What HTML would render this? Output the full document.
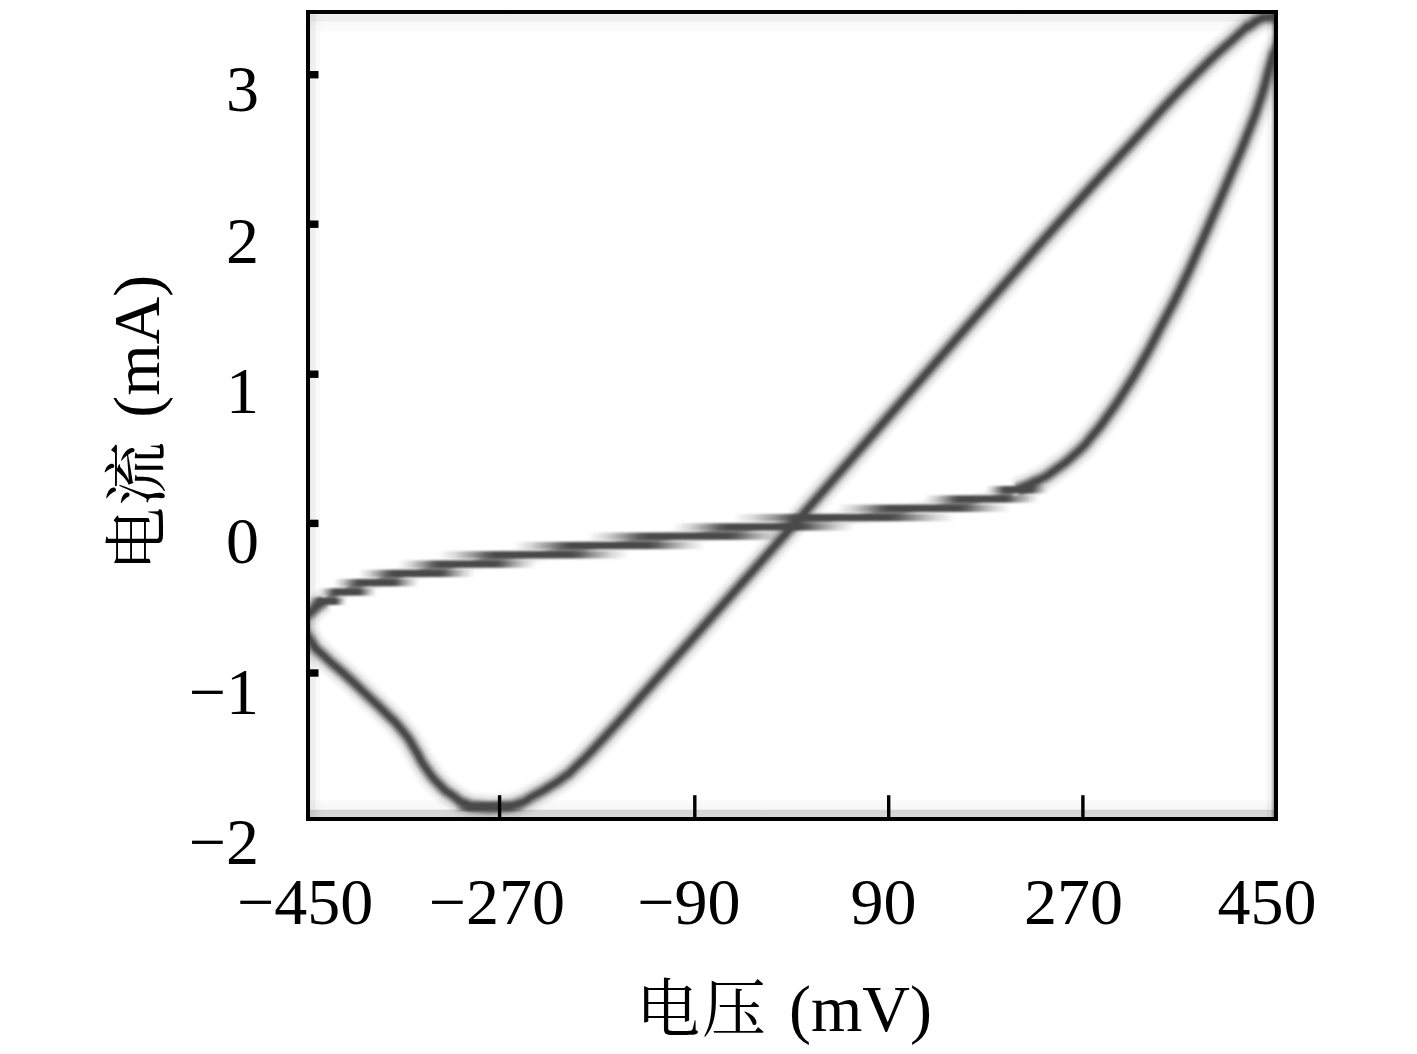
<!DOCTYPE html>
<html lang="zh"><head><meta charset="utf-8"><title>电流 (mA) – 电压 (mV)</title>
<style>html,body{margin:0;padding:0;background:#fff;font-family:"Liberation Serif",serif}svg{display:block}</style></head>
<body><svg width="1417" height="1054" viewBox="0 0 1417 1054" role="img" aria-label="电流 (mA) 电压 (mV)">
<desc>I-V hysteresis curve. y axis: 电流 (mA) 3 2 1 0 −1 −2. x axis: 电压 (mV) −450 −270 −90 90 270 450</desc>
<defs>
<filter id="b1" x="-5%" y="-5%" width="110%" height="110%"><feGaussianBlur stdDeviation="1.3"/></filter>
<filter id="b2" x="-5%" y="-5%" width="110%" height="110%"><feGaussianBlur stdDeviation="6 2.2"/></filter>
<filter id="b3" x="-5%" y="-5%" width="110%" height="110%"><feGaussianBlur stdDeviation="2.2"/></filter>
<filter id="b4" x="-5%" y="-5%" width="110%" height="110%"><feGaussianBlur stdDeviation="1.4"/></filter>
<filter id="bt" x="-50%" y="-50%" width="200%" height="200%"><feGaussianBlur stdDeviation="0.5"/></filter>
<filter id="bl"><feGaussianBlur stdDeviation="0.35"/></filter>
<linearGradient id="gt" gradientUnits="userSpaceOnUse" x1="0" y1="14" x2="0" y2="32"><stop offset="0" stop-color="#f4f4f4"/><stop offset="0.08" stop-color="#ebebeb"/><stop offset="0.36" stop-color="#ededed"/><stop offset="0.47" stop-color="#f9f9f9"/><stop offset="0.9" stop-color="#fbfbfb"/><stop offset="1" stop-color="#fff"/></linearGradient>
<linearGradient id="gl" gradientUnits="userSpaceOnUse" x1="310" y1="0" x2="321" y2="0"><stop offset="0" stop-color="#e6e6e6"/><stop offset="0.12" stop-color="#eeeeee"/><stop offset="0.45" stop-color="#f0f0f0"/><stop offset="0.58" stop-color="#fafafa"/><stop offset="0.9" stop-color="#fcfcfc"/><stop offset="1" stop-color="#fff"/></linearGradient>
<linearGradient id="gr" gradientUnits="userSpaceOnUse" x1="1274" y1="0" x2="1266" y2="0"><stop offset="0" stop-color="#9c9c9c"/><stop offset="0.3" stop-color="#dedede"/><stop offset="0.42" stop-color="#f3f3f3"/><stop offset="0.8" stop-color="#f6f6f6"/><stop offset="1" stop-color="#fff"/></linearGradient>
<linearGradient id="gb" gradientUnits="userSpaceOnUse" x1="0" y1="817" x2="0" y2="799"><stop offset="0" stop-color="#d9d9d9"/><stop offset="0.36" stop-color="#d5d5d5"/><stop offset="0.44" stop-color="#f7f7f7"/><stop offset="0.88" stop-color="#fbfbfb"/><stop offset="1" stop-color="#fff"/></linearGradient>
<clipPath id="cp"><rect x="310" y="14" width="964" height="803"/></clipPath>
<linearGradient id="sg0" gradientUnits="userSpaceOnUse" x1="308.9" y1="0" x2="346.7" y2="0"><stop offset="0.0000" stop-color="#4a4a4a" stop-opacity="0"/><stop offset="0.0900" stop-color="#4a4a4a" stop-opacity="0.22"/><stop offset="0.1800" stop-color="#4a4a4a" stop-opacity="0.55"/><stop offset="0.2550" stop-color="#4a4a4a" stop-opacity="0.88"/><stop offset="0.3000" stop-color="#4a4a4a" stop-opacity="1.0"/><stop offset="0.7000" stop-color="#4a4a4a" stop-opacity="1.0"/><stop offset="0.7450" stop-color="#4a4a4a" stop-opacity="0.88"/><stop offset="0.8200" stop-color="#4a4a4a" stop-opacity="0.55"/><stop offset="0.9100" stop-color="#4a4a4a" stop-opacity="0.22"/><stop offset="1.0000" stop-color="#4a4a4a" stop-opacity="0"/></linearGradient>
<linearGradient id="sg1" gradientUnits="userSpaceOnUse" x1="317.6" y1="0" x2="376.7" y2="0"><stop offset="0.0000" stop-color="#4a4a4a" stop-opacity="0"/><stop offset="0.0900" stop-color="#4a4a4a" stop-opacity="0.22"/><stop offset="0.1800" stop-color="#4a4a4a" stop-opacity="0.55"/><stop offset="0.2550" stop-color="#4a4a4a" stop-opacity="0.88"/><stop offset="0.3000" stop-color="#4a4a4a" stop-opacity="1.0"/><stop offset="0.7000" stop-color="#4a4a4a" stop-opacity="1.0"/><stop offset="0.7450" stop-color="#4a4a4a" stop-opacity="0.88"/><stop offset="0.8200" stop-color="#4a4a4a" stop-opacity="0.55"/><stop offset="0.9100" stop-color="#4a4a4a" stop-opacity="0.22"/><stop offset="1.0000" stop-color="#4a4a4a" stop-opacity="0"/></linearGradient>
<linearGradient id="sg2" gradientUnits="userSpaceOnUse" x1="333.2" y1="0" x2="419.1" y2="0"><stop offset="0.0000" stop-color="#4a4a4a" stop-opacity="0"/><stop offset="0.0900" stop-color="#4a4a4a" stop-opacity="0.22"/><stop offset="0.1800" stop-color="#4a4a4a" stop-opacity="0.55"/><stop offset="0.2550" stop-color="#4a4a4a" stop-opacity="0.88"/><stop offset="0.3000" stop-color="#4a4a4a" stop-opacity="1.0"/><stop offset="0.7000" stop-color="#4a4a4a" stop-opacity="1.0"/><stop offset="0.7450" stop-color="#4a4a4a" stop-opacity="0.88"/><stop offset="0.8200" stop-color="#4a4a4a" stop-opacity="0.55"/><stop offset="0.9100" stop-color="#4a4a4a" stop-opacity="0.22"/><stop offset="1.0000" stop-color="#4a4a4a" stop-opacity="0"/></linearGradient>
<linearGradient id="sg3" gradientUnits="userSpaceOnUse" x1="358.4" y1="0" x2="474.9" y2="0"><stop offset="0.0000" stop-color="#4a4a4a" stop-opacity="0"/><stop offset="0.0900" stop-color="#4a4a4a" stop-opacity="0.22"/><stop offset="0.1800" stop-color="#4a4a4a" stop-opacity="0.55"/><stop offset="0.2550" stop-color="#4a4a4a" stop-opacity="0.88"/><stop offset="0.3000" stop-color="#4a4a4a" stop-opacity="1.0"/><stop offset="0.7000" stop-color="#4a4a4a" stop-opacity="1.0"/><stop offset="0.7450" stop-color="#4a4a4a" stop-opacity="0.88"/><stop offset="0.8200" stop-color="#4a4a4a" stop-opacity="0.55"/><stop offset="0.9100" stop-color="#4a4a4a" stop-opacity="0.22"/><stop offset="1.0000" stop-color="#4a4a4a" stop-opacity="0"/></linearGradient>
<linearGradient id="sg4" gradientUnits="userSpaceOnUse" x1="398.3" y1="0" x2="537.0" y2="0"><stop offset="0.0000" stop-color="#4a4a4a" stop-opacity="0"/><stop offset="0.0900" stop-color="#4a4a4a" stop-opacity="0.22"/><stop offset="0.1800" stop-color="#4a4a4a" stop-opacity="0.55"/><stop offset="0.2550" stop-color="#4a4a4a" stop-opacity="0.88"/><stop offset="0.3000" stop-color="#4a4a4a" stop-opacity="1.0"/><stop offset="0.7000" stop-color="#4a4a4a" stop-opacity="1.0"/><stop offset="0.7450" stop-color="#4a4a4a" stop-opacity="0.88"/><stop offset="0.8200" stop-color="#4a4a4a" stop-opacity="0.55"/><stop offset="0.9100" stop-color="#4a4a4a" stop-opacity="0.22"/><stop offset="1.0000" stop-color="#4a4a4a" stop-opacity="0"/></linearGradient>
<linearGradient id="sg5" gradientUnits="userSpaceOnUse" x1="438.4" y1="0" x2="628.2" y2="0"><stop offset="0.0000" stop-color="#4a4a4a" stop-opacity="0"/><stop offset="0.0900" stop-color="#4a4a4a" stop-opacity="0.22"/><stop offset="0.1800" stop-color="#4a4a4a" stop-opacity="0.55"/><stop offset="0.2550" stop-color="#4a4a4a" stop-opacity="0.88"/><stop offset="0.3000" stop-color="#4a4a4a" stop-opacity="1.0"/><stop offset="0.7000" stop-color="#4a4a4a" stop-opacity="1.0"/><stop offset="0.7450" stop-color="#4a4a4a" stop-opacity="0.88"/><stop offset="0.8200" stop-color="#4a4a4a" stop-opacity="0.55"/><stop offset="0.9100" stop-color="#4a4a4a" stop-opacity="0.22"/><stop offset="1.0000" stop-color="#4a4a4a" stop-opacity="0"/></linearGradient>
<linearGradient id="sg6" gradientUnits="userSpaceOnUse" x1="513.8" y1="0" x2="705.4" y2="0"><stop offset="0.0000" stop-color="#4a4a4a" stop-opacity="0"/><stop offset="0.0900" stop-color="#4a4a4a" stop-opacity="0.22"/><stop offset="0.1800" stop-color="#4a4a4a" stop-opacity="0.55"/><stop offset="0.2550" stop-color="#4a4a4a" stop-opacity="0.88"/><stop offset="0.3000" stop-color="#4a4a4a" stop-opacity="1.0"/><stop offset="0.7000" stop-color="#4a4a4a" stop-opacity="1.0"/><stop offset="0.7450" stop-color="#4a4a4a" stop-opacity="0.88"/><stop offset="0.8200" stop-color="#4a4a4a" stop-opacity="0.55"/><stop offset="0.9100" stop-color="#4a4a4a" stop-opacity="0.22"/><stop offset="1.0000" stop-color="#4a4a4a" stop-opacity="0"/></linearGradient>
<linearGradient id="sg7" gradientUnits="userSpaceOnUse" x1="587.9" y1="0" x2="788.1" y2="0"><stop offset="0.0000" stop-color="#4a4a4a" stop-opacity="0"/><stop offset="0.0900" stop-color="#4a4a4a" stop-opacity="0.22"/><stop offset="0.1800" stop-color="#4a4a4a" stop-opacity="0.55"/><stop offset="0.2550" stop-color="#4a4a4a" stop-opacity="0.88"/><stop offset="0.3000" stop-color="#4a4a4a" stop-opacity="1.0"/><stop offset="0.7000" stop-color="#4a4a4a" stop-opacity="1.0"/><stop offset="0.7450" stop-color="#4a4a4a" stop-opacity="0.88"/><stop offset="0.8200" stop-color="#4a4a4a" stop-opacity="0.55"/><stop offset="0.9100" stop-color="#4a4a4a" stop-opacity="0.22"/><stop offset="1.0000" stop-color="#4a4a4a" stop-opacity="0"/></linearGradient>
<linearGradient id="sg8" gradientUnits="userSpaceOnUse" x1="673.9" y1="0" x2="854.3" y2="0"><stop offset="0.0000" stop-color="#4a4a4a" stop-opacity="0"/><stop offset="0.0900" stop-color="#4a4a4a" stop-opacity="0.22"/><stop offset="0.1800" stop-color="#4a4a4a" stop-opacity="0.55"/><stop offset="0.2550" stop-color="#4a4a4a" stop-opacity="0.88"/><stop offset="0.3000" stop-color="#4a4a4a" stop-opacity="1.0"/><stop offset="0.7000" stop-color="#4a4a4a" stop-opacity="1.0"/><stop offset="0.7450" stop-color="#4a4a4a" stop-opacity="0.88"/><stop offset="0.8200" stop-color="#4a4a4a" stop-opacity="0.55"/><stop offset="0.9100" stop-color="#4a4a4a" stop-opacity="0.22"/><stop offset="1.0000" stop-color="#4a4a4a" stop-opacity="0"/></linearGradient>
<linearGradient id="sg9" gradientUnits="userSpaceOnUse" x1="733.5" y1="0" x2="955.8" y2="0"><stop offset="0.0000" stop-color="#4a4a4a" stop-opacity="0"/><stop offset="0.0900" stop-color="#4a4a4a" stop-opacity="0.22"/><stop offset="0.1800" stop-color="#4a4a4a" stop-opacity="0.55"/><stop offset="0.2550" stop-color="#4a4a4a" stop-opacity="0.88"/><stop offset="0.3000" stop-color="#4a4a4a" stop-opacity="1.0"/><stop offset="0.7000" stop-color="#4a4a4a" stop-opacity="1.0"/><stop offset="0.7450" stop-color="#4a4a4a" stop-opacity="0.88"/><stop offset="0.8200" stop-color="#4a4a4a" stop-opacity="0.55"/><stop offset="0.9100" stop-color="#4a4a4a" stop-opacity="0.22"/><stop offset="1.0000" stop-color="#4a4a4a" stop-opacity="0"/></linearGradient>
<linearGradient id="sg10" gradientUnits="userSpaceOnUse" x1="837.0" y1="0" x2="1010.6" y2="0"><stop offset="0.0000" stop-color="#4a4a4a" stop-opacity="0"/><stop offset="0.0900" stop-color="#4a4a4a" stop-opacity="0.22"/><stop offset="0.1800" stop-color="#4a4a4a" stop-opacity="0.55"/><stop offset="0.2550" stop-color="#4a4a4a" stop-opacity="0.88"/><stop offset="0.3000" stop-color="#4a4a4a" stop-opacity="1.0"/><stop offset="0.7000" stop-color="#4a4a4a" stop-opacity="1.0"/><stop offset="0.7450" stop-color="#4a4a4a" stop-opacity="0.88"/><stop offset="0.8200" stop-color="#4a4a4a" stop-opacity="0.55"/><stop offset="0.9100" stop-color="#4a4a4a" stop-opacity="0.22"/><stop offset="1.0000" stop-color="#4a4a4a" stop-opacity="0"/></linearGradient>
<linearGradient id="sg11" gradientUnits="userSpaceOnUse" x1="923.9" y1="0" x2="1039.2" y2="0"><stop offset="0.0000" stop-color="#4a4a4a" stop-opacity="0"/><stop offset="0.0900" stop-color="#4a4a4a" stop-opacity="0.22"/><stop offset="0.1800" stop-color="#4a4a4a" stop-opacity="0.55"/><stop offset="0.2550" stop-color="#4a4a4a" stop-opacity="0.88"/><stop offset="0.3000" stop-color="#4a4a4a" stop-opacity="1.0"/><stop offset="0.7000" stop-color="#4a4a4a" stop-opacity="1.0"/><stop offset="0.7450" stop-color="#4a4a4a" stop-opacity="0.88"/><stop offset="0.8200" stop-color="#4a4a4a" stop-opacity="0.55"/><stop offset="0.9100" stop-color="#4a4a4a" stop-opacity="0.22"/><stop offset="1.0000" stop-color="#4a4a4a" stop-opacity="0"/></linearGradient>
<linearGradient id="sg12" gradientUnits="userSpaceOnUse" x1="985.7" y1="0" x2="1048.7" y2="0"><stop offset="0.0000" stop-color="#4a4a4a" stop-opacity="0"/><stop offset="0.0900" stop-color="#4a4a4a" stop-opacity="0.22"/><stop offset="0.1800" stop-color="#4a4a4a" stop-opacity="0.55"/><stop offset="0.2550" stop-color="#4a4a4a" stop-opacity="0.88"/><stop offset="0.3000" stop-color="#4a4a4a" stop-opacity="1.0"/><stop offset="0.7000" stop-color="#4a4a4a" stop-opacity="1.0"/><stop offset="0.7450" stop-color="#4a4a4a" stop-opacity="0.88"/><stop offset="0.8200" stop-color="#4a4a4a" stop-opacity="0.55"/><stop offset="0.9100" stop-color="#4a4a4a" stop-opacity="0.22"/><stop offset="1.0000" stop-color="#4a4a4a" stop-opacity="0"/></linearGradient><linearGradient id="xg0" gradientUnits="userSpaceOnUse" x1="455" y1="0" x2="526" y2="0"><stop offset="0" stop-color="#4a4a4a" stop-opacity="0"/><stop offset="0.169" stop-color="#4a4a4a" stop-opacity="1"/><stop offset="0.746" stop-color="#4a4a4a" stop-opacity="1"/><stop offset="1" stop-color="#4a4a4a" stop-opacity="0"/></linearGradient>
</defs>
<rect width="1417" height="1054" fill="#fff"/>
<g clip-path="url(#cp)">
<rect x="310" y="14" width="964" height="18" fill="url(#gt)"/>
<rect x="310" y="14" width="11" height="803" fill="url(#gl)" style="mix-blend-mode:multiply"/>
<rect x="1266" y="14" width="8" height="803" fill="url(#gr)" style="mix-blend-mode:multiply"/>
<rect x="310" y="799" width="964" height="18" fill="url(#gb)" style="mix-blend-mode:multiply"/>
<g fill="none" stroke-linecap="butt" stroke-linejoin="round">
<path d="M312.5,610.5C316.4,607.4 314.1,607.4 324.2,601.2C334.3,595.0 327.0,598.2 342.7,592.0C358.4,585.8 348.4,588.9 371.2,582.7C394.0,576.5 380.2,579.7 411.0,573.5C441.8,567.3 434.3,569.2 463.7,564.2C493.1,559.2 476.2,561.7 499.3,558.5C522.4,555.3 493.5,559.5 532.9,554.7C572.3,549.9 564.7,550.5 617.6,544.1C670.5,537.7 640.2,541.6 691.7,535.6C743.2,529.6 735.7,530.7 772.2,526.1C808.7,521.5 773.9,524.8 801.2,521.8C828.5,518.8 811.8,521.6 854.1,517.0C896.4,512.4 883.7,513.9 928.2,507.9C972.7,501.9 957.9,505.0 987.5,499.0C1017.1,493.0 1000.2,496.1 1017.1,489.9C1034.0,483.7 1031.2,483.5 1038.3,480.3" stroke="#505050" stroke-width="11" opacity="0.2" filter="url(#b3)"/>
<path d="M1282.0,17.4C1277.3,17.4 1275.5,16.7 1268.0,17.4C1260.5,18.1 1265.8,16.4 1259.5,19.4C1253.2,22.4 1256.3,21.1 1249.0,26.4C1241.7,31.7 1257.9,16.8 1237.6,35.4C1217.3,54.0 1224.3,45.3 1188.2,82.1C1152.1,118.9 1169.3,102.3 1129.3,145.7C1089.3,189.1 1110.0,165.9 1068.1,212.4C1026.2,258.9 1044.5,238.8 1003.6,285.2C962.7,331.6 985.6,305.5 945.3,351.5C905.0,397.5 930.7,368.3 882.6,423.3C834.5,478.3 836.8,475.7 801.0,516.5C765.2,557.3 802.7,514.6 775.1,545.7C747.5,576.8 759.4,563.3 718.1,609.8C676.8,656.3 689.8,641.9 651.2,685.2C612.6,728.5 627.7,712.2 602.3,739.6C576.9,767.0 587.8,755.0 575.0,767.5C562.2,780.0 572.7,770.5 564.0,777.0C555.3,783.5 559.0,780.7 548.8,787.0C538.6,793.3 543.7,790.3 533.5,795.8C523.3,801.3 529.5,800.0 518.2,803.6C506.9,807.2 512.1,805.6 499.7,806.6C487.3,807.6 492.4,807.6 481.1,806.6C469.8,805.6 475.3,807.3 465.9,803.6C456.5,799.9 461.5,801.8 452.8,795.6C444.1,789.4 448.8,794.4 439.7,785.0C430.6,775.6 433.9,779.6 425.5,767.5C417.1,755.4 422.2,761.0 414.6,748.8C407.0,736.6 412.4,743.1 402.6,731.0C392.8,718.9 397.5,724.8 385.1,712.4C372.7,700.0 378.6,706.2 365.5,693.8C352.4,681.4 359.6,687.9 345.8,675.3C332.0,662.7 335.4,667.1 324.0,656.0C312.6,644.9 318.2,652.7 311.5,642.0C304.8,631.3 303.7,634.5 304.0,624.0C304.3,613.5 305.8,618.1 312.5,610.5C319.2,602.9 320.3,604.3 324.2,601.2" stroke="#000" stroke-width="25.6" opacity="0.06" filter="url(#b3)"/>
<path d="M1282.0,17.4C1277.3,17.4 1275.5,16.7 1268.0,17.4C1260.5,18.1 1265.8,16.4 1259.5,19.4C1253.2,22.4 1256.3,21.1 1249.0,26.4C1241.7,31.7 1257.9,16.8 1237.6,35.4C1217.3,54.0 1224.3,45.3 1188.2,82.1C1152.1,118.9 1169.3,102.3 1129.3,145.7C1089.3,189.1 1110.0,165.9 1068.1,212.4C1026.2,258.9 1044.5,238.8 1003.6,285.2C962.7,331.6 985.6,305.5 945.3,351.5C905.0,397.5 930.7,368.3 882.6,423.3C834.5,478.3 836.8,475.7 801.0,516.5C765.2,557.3 802.7,514.6 775.1,545.7C747.5,576.8 759.4,563.3 718.1,609.8C676.8,656.3 689.8,641.9 651.2,685.2C612.6,728.5 627.7,712.2 602.3,739.6C576.9,767.0 587.8,755.0 575.0,767.5C562.2,780.0 572.7,770.5 564.0,777.0C555.3,783.5 559.0,780.7 548.8,787.0C538.6,793.3 543.7,790.3 533.5,795.8C523.3,801.3 529.5,800.0 518.2,803.6C506.9,807.2 512.1,805.6 499.7,806.6C487.3,807.6 492.4,807.6 481.1,806.6C469.8,805.6 475.3,807.3 465.9,803.6C456.5,799.9 461.5,801.8 452.8,795.6C444.1,789.4 448.8,794.4 439.7,785.0C430.6,775.6 433.9,779.6 425.5,767.5C417.1,755.4 422.2,761.0 414.6,748.8C407.0,736.6 412.4,743.1 402.6,731.0C392.8,718.9 397.5,724.8 385.1,712.4C372.7,700.0 378.6,706.2 365.5,693.8C352.4,681.4 359.6,687.9 345.8,675.3C332.0,662.7 335.4,667.1 324.0,656.0C312.6,644.9 318.2,652.7 311.5,642.0C304.8,631.3 303.7,634.5 304.0,624.0C304.3,613.5 305.8,618.1 312.5,610.5C319.2,602.9 320.3,604.3 324.2,601.2" stroke="#000" stroke-width="19.2" opacity="0.083" filter="url(#b3)"/>
<path d="M1282.0,17.4C1277.3,17.4 1275.5,16.7 1268.0,17.4C1260.5,18.1 1265.8,16.4 1259.5,19.4C1253.2,22.4 1256.3,21.1 1249.0,26.4C1241.7,31.7 1257.9,16.8 1237.6,35.4C1217.3,54.0 1224.3,45.3 1188.2,82.1C1152.1,118.9 1169.3,102.3 1129.3,145.7C1089.3,189.1 1110.0,165.9 1068.1,212.4C1026.2,258.9 1044.5,238.8 1003.6,285.2C962.7,331.6 985.6,305.5 945.3,351.5C905.0,397.5 930.7,368.3 882.6,423.3C834.5,478.3 836.8,475.7 801.0,516.5C765.2,557.3 802.7,514.6 775.1,545.7C747.5,576.8 759.4,563.3 718.1,609.8C676.8,656.3 689.8,641.9 651.2,685.2C612.6,728.5 627.7,712.2 602.3,739.6C576.9,767.0 587.8,755.0 575.0,767.5C562.2,780.0 572.7,770.5 564.0,777.0C555.3,783.5 559.0,780.7 548.8,787.0C538.6,793.3 543.7,790.3 533.5,795.8C523.3,801.3 529.5,800.0 518.2,803.6C506.9,807.2 512.1,805.6 499.7,806.6C487.3,807.6 492.4,807.6 481.1,806.6C469.8,805.6 475.3,807.3 465.9,803.6C456.5,799.9 461.5,801.8 452.8,795.6C444.1,789.4 448.8,794.4 439.7,785.0C430.6,775.6 433.9,779.6 425.5,767.5C417.1,755.4 422.2,761.0 414.6,748.8C407.0,736.6 412.4,743.1 402.6,731.0C392.8,718.9 397.5,724.8 385.1,712.4C372.7,700.0 378.6,706.2 365.5,693.8C352.4,681.4 359.6,687.9 345.8,675.3C332.0,662.7 335.4,667.1 324.0,656.0C312.6,644.9 318.2,652.7 311.5,642.0C304.8,631.3 303.7,634.5 304.0,624.0C304.3,613.5 305.8,618.1 312.5,610.5C319.2,602.9 320.3,604.3 324.2,601.2" stroke="#000" stroke-width="12.8" opacity="0.34" filter="url(#b4)"/>
<path d="M1017.1,489.9C1024.2,486.7 1025.6,487.0 1038.3,480.3C1051.0,473.6 1042.5,479.0 1055.2,469.8C1067.9,460.6 1063.9,464.3 1076.4,452.8C1088.9,441.3 1082.0,447.9 1092.7,435.2C1103.4,422.5 1097.5,430.0 1108.4,414.8C1119.3,399.6 1114.0,407.5 1125.4,389.6C1136.8,371.7 1130.6,382.2 1142.5,361.2C1154.4,340.2 1148.1,351.2 1161.0,326.5C1173.9,301.8 1168.8,312.8 1181.2,287.1C1193.6,261.4 1186.9,275.1 1198.3,249.5C1209.7,223.9 1204.0,236.7 1215.4,210.3C1226.8,183.9 1221.7,195.9 1232.5,170.3C1243.3,144.7 1238.4,157.5 1247.8,133.5C1257.2,109.5 1253.1,121.7 1260.8,98.2C1268.5,74.7 1265.6,79.4 1270.9,63.0C1276.2,46.6 1270.8,60.0 1276.8,49.0C1282.8,38.0 1284.9,36.3 1289.0,30.0" stroke="#000" stroke-width="25.6" opacity="0.06" filter="url(#b3)"/>
<path d="M1017.1,489.9C1024.2,486.7 1025.6,487.0 1038.3,480.3C1051.0,473.6 1042.5,479.0 1055.2,469.8C1067.9,460.6 1063.9,464.3 1076.4,452.8C1088.9,441.3 1082.0,447.9 1092.7,435.2C1103.4,422.5 1097.5,430.0 1108.4,414.8C1119.3,399.6 1114.0,407.5 1125.4,389.6C1136.8,371.7 1130.6,382.2 1142.5,361.2C1154.4,340.2 1148.1,351.2 1161.0,326.5C1173.9,301.8 1168.8,312.8 1181.2,287.1C1193.6,261.4 1186.9,275.1 1198.3,249.5C1209.7,223.9 1204.0,236.7 1215.4,210.3C1226.8,183.9 1221.7,195.9 1232.5,170.3C1243.3,144.7 1238.4,157.5 1247.8,133.5C1257.2,109.5 1253.1,121.7 1260.8,98.2C1268.5,74.7 1265.6,79.4 1270.9,63.0C1276.2,46.6 1270.8,60.0 1276.8,49.0C1282.8,38.0 1284.9,36.3 1289.0,30.0" stroke="#000" stroke-width="19.2" opacity="0.083" filter="url(#b3)"/>
<path d="M1017.1,489.9C1024.2,486.7 1025.6,487.0 1038.3,480.3C1051.0,473.6 1042.5,479.0 1055.2,469.8C1067.9,460.6 1063.9,464.3 1076.4,452.8C1088.9,441.3 1082.0,447.9 1092.7,435.2C1103.4,422.5 1097.5,430.0 1108.4,414.8C1119.3,399.6 1114.0,407.5 1125.4,389.6C1136.8,371.7 1130.6,382.2 1142.5,361.2C1154.4,340.2 1148.1,351.2 1161.0,326.5C1173.9,301.8 1168.8,312.8 1181.2,287.1C1193.6,261.4 1186.9,275.1 1198.3,249.5C1209.7,223.9 1204.0,236.7 1215.4,210.3C1226.8,183.9 1221.7,195.9 1232.5,170.3C1243.3,144.7 1238.4,157.5 1247.8,133.5C1257.2,109.5 1253.1,121.7 1260.8,98.2C1268.5,74.7 1265.6,79.4 1270.9,63.0C1276.2,46.6 1270.8,60.0 1276.8,49.0C1282.8,38.0 1284.9,36.3 1289.0,30.0" stroke="#000" stroke-width="12.8" opacity="0.34" filter="url(#b4)"/>
<path d="M1282.0,17.4C1277.3,17.4 1275.5,16.7 1268.0,17.4C1260.5,18.1 1265.8,16.4 1259.5,19.4C1253.2,22.4 1256.3,21.1 1249.0,26.4C1241.7,31.7 1257.9,16.8 1237.6,35.4C1217.3,54.0 1224.3,45.3 1188.2,82.1C1152.1,118.9 1169.3,102.3 1129.3,145.7C1089.3,189.1 1110.0,165.9 1068.1,212.4C1026.2,258.9 1044.5,238.8 1003.6,285.2C962.7,331.6 985.6,305.5 945.3,351.5C905.0,397.5 930.7,368.3 882.6,423.3C834.5,478.3 836.8,475.7 801.0,516.5C765.2,557.3 802.7,514.6 775.1,545.7C747.5,576.8 759.4,563.3 718.1,609.8C676.8,656.3 689.8,641.9 651.2,685.2C612.6,728.5 627.7,712.2 602.3,739.6C576.9,767.0 587.8,755.0 575.0,767.5C562.2,780.0 572.7,770.5 564.0,777.0C555.3,783.5 559.0,780.7 548.8,787.0C538.6,793.3 543.7,790.3 533.5,795.8C523.3,801.3 529.5,800.0 518.2,803.6C506.9,807.2 512.1,805.6 499.7,806.6C487.3,807.6 492.4,807.6 481.1,806.6C469.8,805.6 475.3,807.3 465.9,803.6C456.5,799.9 461.5,801.8 452.8,795.6C444.1,789.4 448.8,794.4 439.7,785.0C430.6,775.6 433.9,779.6 425.5,767.5C417.1,755.4 422.2,761.0 414.6,748.8C407.0,736.6 412.4,743.1 402.6,731.0C392.8,718.9 397.5,724.8 385.1,712.4C372.7,700.0 378.6,706.2 365.5,693.8C352.4,681.4 359.6,687.9 345.8,675.3C332.0,662.7 335.4,667.1 324.0,656.0C312.6,644.9 318.2,652.7 311.5,642.0C304.8,631.3 303.7,634.5 304.0,624.0C304.3,613.5 305.8,618.1 312.5,610.5C319.2,602.9 314.1,607.4 324.2,601.2C334.3,595.0 327.0,598.2 342.7,592.0C358.4,585.8 348.4,588.9 371.2,582.7C394.0,576.5 380.2,579.7 411.0,573.5C441.8,567.3 434.3,569.2 463.7,564.2C493.1,559.2 476.2,561.7 499.3,558.5C522.4,555.3 493.5,559.5 532.9,554.7C572.3,549.9 564.7,550.5 617.6,544.1C670.5,537.7 640.2,541.6 691.7,535.6C743.2,529.6 735.7,530.7 772.2,526.1C808.7,521.5 773.9,524.8 801.2,521.8C828.5,518.8 811.8,521.6 854.1,517.0C896.4,512.4 883.7,513.9 928.2,507.9C972.7,501.9 957.9,505.0 987.5,499.0C1017.1,493.0 1000.2,496.1 1017.1,489.9C1034.0,483.7 1025.6,487.0 1038.3,480.3C1051.0,473.6 1042.5,479.0 1055.2,469.8C1067.9,460.6 1063.9,464.3 1076.4,452.8C1088.9,441.3 1082.0,447.9 1092.7,435.2C1103.4,422.5 1097.5,430.0 1108.4,414.8C1119.3,399.6 1114.0,407.5 1125.4,389.6C1136.8,371.7 1130.6,382.2 1142.5,361.2C1154.4,340.2 1148.1,351.2 1161.0,326.5C1173.9,301.8 1168.8,312.8 1181.2,287.1C1193.6,261.4 1186.9,275.1 1198.3,249.5C1209.7,223.9 1204.0,236.7 1215.4,210.3C1226.8,183.9 1221.7,195.9 1232.5,170.3C1243.3,144.7 1238.4,157.5 1247.8,133.5C1257.2,109.5 1253.1,121.7 1260.8,98.2C1268.5,74.7 1265.6,79.4 1270.9,63.0C1276.2,46.6 1270.8,60.0 1276.8,49.0C1282.8,38.0 1284.9,36.3 1289.0,30.0" stroke="#505050" stroke-width="1" opacity="0.0" filter="url(#b3)"/>
</g>
<g fill="none" stroke-linecap="round" stroke-linejoin="round" filter="url(#b1)">
<path d="M1282.0,17.4C1277.3,17.4 1275.5,16.7 1268.0,17.4C1260.5,18.1 1265.8,16.4 1259.5,19.4C1253.2,22.4 1256.3,21.1 1249.0,26.4C1241.7,31.7 1257.9,16.8 1237.6,35.4C1217.3,54.0 1224.3,45.3 1188.2,82.1C1152.1,118.9 1169.3,102.3 1129.3,145.7C1089.3,189.1 1110.0,165.9 1068.1,212.4C1026.2,258.9 1044.5,238.8 1003.6,285.2C962.7,331.6 985.6,305.5 945.3,351.5C905.0,397.5 930.7,368.3 882.6,423.3C834.5,478.3 836.8,475.7 801.0,516.5C765.2,557.3 802.7,514.6 775.1,545.7C747.5,576.8 759.4,563.3 718.1,609.8C676.8,656.3 689.8,641.9 651.2,685.2C612.6,728.5 627.7,712.2 602.3,739.6C576.9,767.0 587.8,755.0 575.0,767.5C562.2,780.0 572.7,770.5 564.0,777.0C555.3,783.5 559.0,780.7 548.8,787.0C538.6,793.3 543.7,790.3 533.5,795.8C523.3,801.3 529.5,800.0 518.2,803.6C506.9,807.2 512.1,805.6 499.7,806.6C487.3,807.6 492.4,807.6 481.1,806.6C469.8,805.6 475.3,807.3 465.9,803.6C456.5,799.9 461.5,801.8 452.8,795.6C444.1,789.4 448.8,794.4 439.7,785.0C430.6,775.6 433.9,779.6 425.5,767.5C417.1,755.4 422.2,761.0 414.6,748.8C407.0,736.6 412.4,743.1 402.6,731.0C392.8,718.9 397.5,724.8 385.1,712.4C372.7,700.0 378.6,706.2 365.5,693.8C352.4,681.4 359.6,687.9 345.8,675.3C332.0,662.7 335.4,667.1 324.0,656.0C312.6,644.9 318.2,652.7 311.5,642.0C304.8,631.3 303.7,634.5 304.0,624.0C304.3,613.5 305.8,618.1 312.5,610.5C319.2,602.9 320.3,604.3 324.2,601.2" stroke="#4a4a4a" stroke-width="6.4" stroke-opacity="1" stroke-linecap="butt"/>
<path d="M1017.1,489.9C1024.2,486.7 1025.6,487.0 1038.3,480.3C1051.0,473.6 1042.5,479.0 1055.2,469.8C1067.9,460.6 1063.9,464.3 1076.4,452.8C1088.9,441.3 1082.0,447.9 1092.7,435.2C1103.4,422.5 1097.5,430.0 1108.4,414.8C1119.3,399.6 1114.0,407.5 1125.4,389.6C1136.8,371.7 1130.6,382.2 1142.5,361.2C1154.4,340.2 1148.1,351.2 1161.0,326.5C1173.9,301.8 1168.8,312.8 1181.2,287.1C1193.6,261.4 1186.9,275.1 1198.3,249.5C1209.7,223.9 1204.0,236.7 1215.4,210.3C1226.8,183.9 1221.7,195.9 1232.5,170.3C1243.3,144.7 1238.4,157.5 1247.8,133.5C1257.2,109.5 1253.1,121.7 1260.8,98.2C1268.5,74.7 1265.6,79.4 1270.9,63.0C1276.2,46.6 1270.8,60.0 1276.8,49.0C1282.8,38.0 1284.9,36.3 1289.0,30.0" stroke="#4a4a4a" stroke-width="6.4" stroke-opacity="1" stroke-linecap="butt"/>
<path d="M312.5,610.5C316.4,607.4 314.1,607.4 324.2,601.2C334.3,595.0 327.0,598.2 342.7,592.0C358.4,585.8 348.4,588.9 371.2,582.7C394.0,576.5 380.2,579.7 411.0,573.5C441.8,567.3 434.3,569.2 463.7,564.2C493.1,559.2 476.2,561.7 499.3,558.5C522.4,555.3 493.5,559.5 532.9,554.7C572.3,549.9 564.7,550.5 617.6,544.1C670.5,537.7 640.2,541.6 691.7,535.6C743.2,529.6 735.7,530.7 772.2,526.1C808.7,521.5 773.9,524.8 801.2,521.8C828.5,518.8 811.8,521.6 854.1,517.0C896.4,512.4 883.7,513.9 928.2,507.9C972.7,501.9 957.9,505.0 987.5,499.0C1017.1,493.0 1000.2,496.1 1017.1,489.9C1034.0,483.7 1031.2,483.5 1038.3,480.3" stroke="#4a4a4a" stroke-width="5.0" stroke-opacity="0.6" stroke-linecap="butt"/>
<g stroke="none"><rect x="308.9" y="597.70" width="37.8" height="7.2" fill="url(#sg0)"/>
<rect x="317.6" y="588.40" width="59.0" height="7.2" fill="url(#sg1)"/>
<rect x="333.2" y="579.10" width="85.9" height="7.2" fill="url(#sg2)"/>
<rect x="358.4" y="569.80" width="116.5" height="7.2" fill="url(#sg3)"/>
<rect x="398.3" y="560.50" width="138.6" height="7.2" fill="url(#sg4)"/>
<rect x="438.4" y="551.20" width="189.7" height="7.2" fill="url(#sg5)"/>
<rect x="513.8" y="541.90" width="191.7" height="7.2" fill="url(#sg6)"/>
<rect x="587.9" y="532.60" width="200.2" height="7.2" fill="url(#sg7)"/>
<rect x="673.9" y="523.30" width="180.4" height="7.2" fill="url(#sg8)"/>
<rect x="733.5" y="514.00" width="222.3" height="7.2" fill="url(#sg9)"/>
<rect x="837.0" y="504.70" width="173.6" height="7.2" fill="url(#sg10)"/>
<rect x="923.9" y="495.40" width="115.3" height="7.2" fill="url(#sg11)"/>
<rect x="985.7" y="486.10" width="63.0" height="7.2" fill="url(#sg12)"/><rect x="455" y="802.3000000000001" width="71" height="8.6" rx="2" fill="url(#xg0)"/></g></g>
</g>
<g fill="#000" filter="url(#bt)"><rect x="309" y="71.00" width="9.5" height="7.4"/><rect x="309" y="220.50" width="9.5" height="7.4"/><rect x="309" y="370.50" width="9.5" height="7.4"/><rect x="309" y="519.70" width="9.5" height="7.4"/><rect x="309" y="669.30" width="9.5" height="7.4"/><rect x="497.90" y="795.2" width="3.4" height="22.799999999999955"/><rect x="693.10" y="795.2" width="3.4" height="22.799999999999955"/><rect x="887.00" y="795.2" width="3.4" height="22.799999999999955"/><rect x="1081.20" y="795.2" width="3.4" height="22.799999999999955"/></g>
<rect x="308.0" y="12.0" width="968" height="807" fill="none" stroke="#000" stroke-width="4"/>
<g fill="#000" filter="url(#bl)" font-family="'Liberation Serif', 'Noto Serif CJK SC', serif" font-size="66" stroke="none">
<text x="259" y="111.3" text-anchor="end">3</text>
<text x="259" y="262.6" text-anchor="end">2</text>
<text x="259" y="413" text-anchor="end">1</text>
<text x="259" y="562.7" text-anchor="end">0</text>
<text x="259" y="714.2" text-anchor="end">−1</text>
<text x="259" y="863.7" text-anchor="end">−2</text>
<text x="373.2" y="923.6" text-anchor="end">−450</text>
<text x="565.1" y="923.6" text-anchor="end">−270</text>
<text x="740.4" y="923.6" text-anchor="end">−90</text>
<text x="916.4" y="923.6" text-anchor="end">90</text>
<text x="1123.1" y="923.6" text-anchor="end">270</text>
<text x="1316.5" y="923.6" text-anchor="end">450</text>
<text x="636 702" y="1031" font-size="64">电压</text>
<text x="789" y="1031.1">(mV)</text>
<text transform="translate(158.5,571) rotate(-90)" x="0 65" y="0" font-size="64">电流</text>
<text transform="translate(158.5,417.7) rotate(-90)">(mA)</text>
</g>
</svg></body></html>
